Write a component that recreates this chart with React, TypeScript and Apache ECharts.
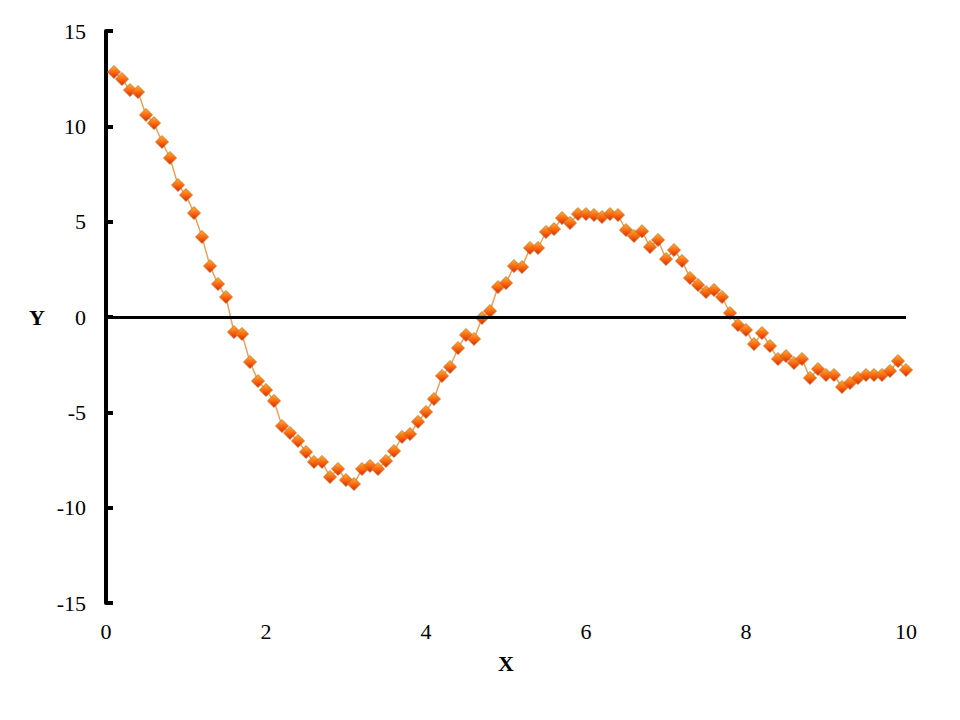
import React, { useEffect, useRef } from 'react';
import * as echarts from 'echarts';

// x runs 0.1 .. 10.0 in steps of 0.1
const xValues: number[] = [
    0.1, 0.2, 0.3, 0.4, 0.5, 0.6, 0.7, 0.8, 0.9, 1.0,
    1.1, 1.2, 1.3, 1.4, 1.5, 1.6, 1.7, 1.8, 1.9, 2.0,
    2.1, 2.2, 2.3, 2.4, 2.5, 2.6, 2.7, 2.8, 2.9, 3.0,
    3.1, 3.2, 3.3, 3.4, 3.5, 3.6, 3.7, 3.8, 3.9, 4.0,
    4.1, 4.2, 4.3, 4.4, 4.5, 4.6, 4.7, 4.8, 4.9, 5.0,
    5.1, 5.2, 5.3, 5.4, 5.5, 5.6, 5.7, 5.8, 5.9, 6.0,
    6.1, 6.2, 6.3, 6.4, 6.5, 6.6, 6.7, 6.8, 6.9, 7.0,
    7.1, 7.2, 7.3, 7.4, 7.5, 7.6, 7.7, 7.8, 7.9, 8.0,
    8.1, 8.2, 8.3, 8.4, 8.5, 8.6, 8.7, 8.8, 8.9, 9.0,
    9.1, 9.2, 9.3, 9.4, 9.5, 9.6, 9.7, 9.8, 9.9, 10.0,
];

const yValues: number[] = [
    12.85, 12.48, 11.9, 11.8, 10.6, 10.17, 9.18, 8.34, 6.92, 6.4,
    5.45, 4.2, 2.67, 1.73, 1.05, -0.79, -0.89, -2.36, -3.36, -3.83,
    -4.4, -5.72, -6.08, -6.5, -7.08, -7.6, -7.6, -8.39, -7.97, -8.55,
    -8.76, -7.97, -7.81, -7.97, -7.55, -7.03, -6.29, -6.14, -5.5, -4.98,
    -4.3, -3.09, -2.62, -1.63, -0.94, -1.15, -0.05, 0.31, 1.57, 1.78,
    2.67, 2.62, 3.62, 3.62, 4.46, 4.61, 5.19, 4.93, 5.4, 5.4,
    5.35, 5.24, 5.4, 5.35, 4.56, 4.25, 4.5, 3.67, 4.04, 3.04,
    3.51, 2.94, 2.05, 1.68, 1.31, 1.42, 1.05, 0.21, -0.42, -0.68,
    -1.42, -0.84, -1.52, -2.2, -2.05, -2.41, -2.2, -3.2, -2.73, -3.04,
    -3.04, -3.67, -3.46, -3.2, -3.04, -3.04, -3.04, -2.83, -2.31, -2.78,
];

// single quotes: the svg renderer puts this into a style attribute
const FONT = "'Liberation Serif', 'Times New Roman', serif";

const App: React.FC = () => {
    const chartRef = useRef<HTMLDivElement>(null);

    useEffect(() => {
        if (!chartRef.current) return;
        const chart = echarts.init(chartRef.current, undefined, { renderer: 'svg' });

        const points = xValues.map((x, i) => [x, yValues[i]]);

        const option: echarts.EChartsOption = {
            animation: false,
            backgroundColor: '#ffffff',
            // body has an 8px margin, so the grid is offset by -8 from page pixels
            grid: { left: 98, right: 46, top: 23, bottom: 109 },
            xAxis: {
                type: 'value',
                min: 0,
                max: 10,
                interval: 2,
                name: 'X',
                nameLocation: 'middle',
                nameGap: 49,
                nameTextStyle: { fontFamily: FONT, fontSize: 22, fontWeight: 'bold', color: '#000' },
                axisLine: { show: false, onZero: false },
                axisTick: { show: false },
                splitLine: { show: false },
                axisLabel: { fontFamily: FONT, fontSize: 22, color: '#000', margin: 17 },
            },
            yAxis: {
                type: 'value',
                min: -15,
                max: 15,
                interval: 5,
                name: 'Y',
                nameLocation: 'middle',
                nameRotate: 0,
                nameGap: 61,
                nameTextStyle: { fontFamily: FONT, fontSize: 22, fontWeight: 'bold', color: '#000' },
                axisLine: { show: true, onZero: false, lineStyle: { color: '#000', width: 4 } },
                axisTick: { show: true, inside: true, length: 7, lineStyle: { color: '#000', width: 4 } },
                splitLine: { show: false },
                axisLabel: { fontFamily: FONT, fontSize: 22, color: '#000', margin: 20 },
            },
            series: [
                {
                    type: 'line',
                    data: points,
                    symbol: 'diamond',
                    symbolSize: 13,
                    showAllSymbol: true,
                    lineStyle: { color: '#E6A25C', width: 1.5 },
                    itemStyle: {
                        color: new echarts.graphic.LinearGradient(0, 0, 0, 1, [
                            { offset: 0, color: '#FFB02E' },
                            { offset: 0.5, color: '#FF6A10' },
                            { offset: 1, color: '#D82800' },
                        ]),
                        borderColor: '#B8742E',
                        borderWidth: 0.8,
                    },
                    markLine: {
                        silent: true,
                        symbol: 'none',
                        label: { show: false },
                        lineStyle: { color: '#000', width: 3, type: 'solid' },
                        data: [{ yAxis: 0 }],
                    },
                    z: 3,
                },
            ],
        };

        chart.setOption(option);

        return () => {
            chart.dispose();
        };
    }, []);

    return <div ref={chartRef} style={{ width: 944, height: 704 }} />;
};

export default App;
